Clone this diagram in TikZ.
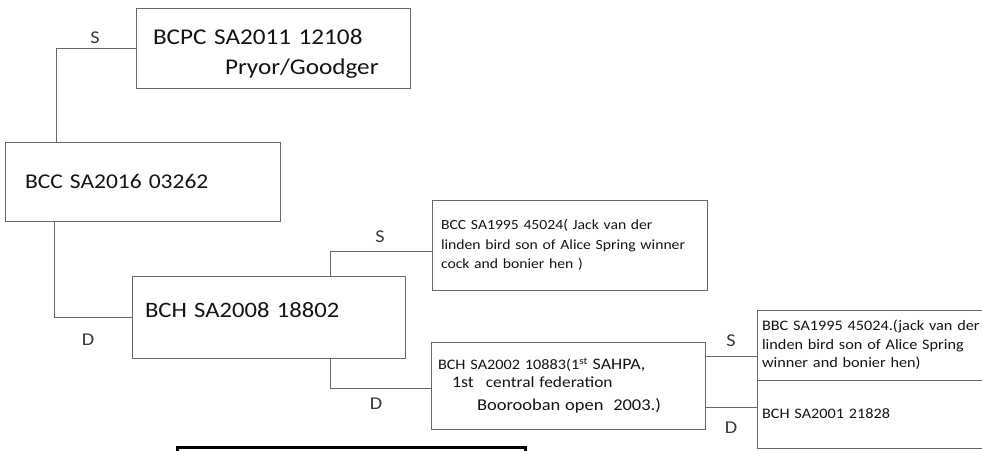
\documentclass[tikz,border=0pt]{standalone}
\usepackage{fontspec}
\setmainfont{Carlito}[FakeStretch=1.12]
\usetikzlibrary{positioning,calc}
\definecolor{pen}{HTML}{666666}
\definecolor{ink}{HTML}{141414}
\tikzset{box/.style={draw=pen,line width=0.8pt,align=left,inner ysep=0pt,text=ink},link/.style={draw=pen,line width=0.8pt},lab/.style={font=\fontsize{18}{18}\selectfont,text=pen!55!black,inner sep=1pt}}

\begin{document}
\begin{tikzpicture}[x=1pt,y=-1pt]
\clip (0,0) rectangle (982,450);
\fill[white] (0,0) rectangle (982,450);
\node[box,inner xsep=17pt,text width=240pt,minimum height=80pt,font=\fontsize{22.5}{30}\selectfont] (bcpc) at (273,48) {\rule{0pt}{27pt}BCPC SA2011 12108\\\hspace*{72pt}Pryor/Goodger};
\node[box,inner xsep=20pt,text width=235pt,minimum height=79pt,font=\fontsize{21}{25}\selectfont] (bcc) at (142.5,181.5) {BCC SA2016 03262};
\node[box,inner xsep=13pt,text width=247pt,minimum height=82pt,font=\fontsize{22}{25}\selectfont] (bch) at (268.5,317) {BCH SA2008 18802\rule[-14pt]{0pt}{1pt}};
\node[box,inner xsep=9pt,text width=257pt,minimum height=90pt,font=\fontsize{14}{19.5}\selectfont] (bccsire) at (569.5,245) {BCC SA1995 45024( Jack van der\\linden bird son of Alice Spring winner\\cock and bonier hen )};
\node[box,inner xsep=7pt,text width=260pt,minimum height=87pt,font=\fontsize{14.5}{18}\selectfont] (bchdam) at (568,385.5) {BCH SA2002 10883(1\textsuperscript{st} {\fontsize{16}{18}\selectfont SAHPA,}\\\hspace*{14pt}{\fontsize{16}{18}\selectfont 1st}\hspace{12pt}{\fontsize{15.5}{18}\selectfont central federation}\\[5pt]\hspace*{39pt}{\fontsize{16.5}{18}\selectfont Boorooban open\ \ 2003.)}};
\node[box,inner xsep=5pt,text width=233pt,minimum height=70pt,font=\fontsize{14.5}{18.5}\selectfont] (bbc) at (878.5,345) {BBC SA1995 45024.(jack van der\\linden bird son of Alice Spring\\winner and bonier hen)};
\node[box,inner xsep=5pt,text width=233pt,minimum height=68pt,font=\fontsize{14.5}{18.5}\selectfont] (bchgran) at (878.5,414) {BCH SA2001 21828};
\node[draw=black,line width=3pt,minimum width=348pt,minimum height=46pt] (stamp) at (351,470) {};
% sire and dam lines
\draw[link] (bcpc.west) -| ([xshift=52pt]bcc.north west);
\draw[link] ([xshift=50pt]bcc.south west) |- (bch.west);
\draw[link] ([xshift=-75pt]bch.north east) |- ([yshift=-6pt]bccsire.west);
\draw[link] ([xshift=-75pt]bch.south east) |- ([yshift=-3pt]bchdam.west);
\draw[link] ([yshift=-15pt]bchdam.north east) -- ([yshift=-15pt]bchdam.north east -| bbc.west);
\draw[link] ([yshift=22pt]bchdam.south east) -- ([yshift=22pt]bchdam.south east -| bchgran.west);
\node[lab] (s1) at (95,38) {S};
\node[lab] (d1) at (88,340) {D};
\node[lab] (s2) at (380,237) {S};
\node[lab] (d2) at (376,404) {D};
\node[lab] (s3) at (731,341) {S};
\node[lab] (d3) at (731,428) {D};
\end{tikzpicture}
\end{document}
